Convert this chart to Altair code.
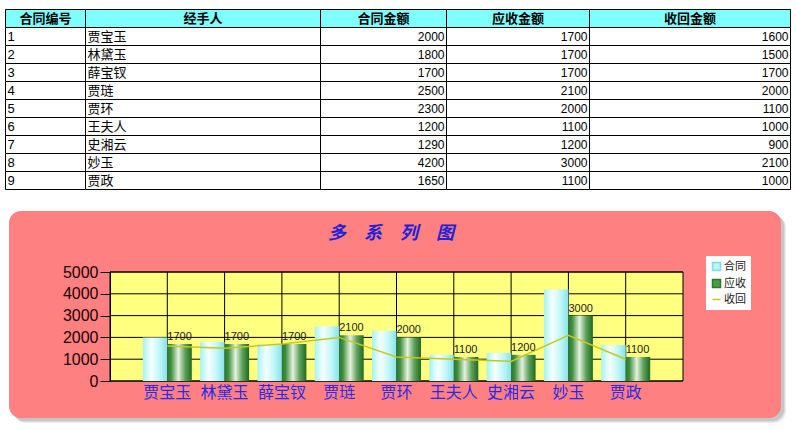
import altair as alt
import pandas as pd

# ---------------- data ----------------
IDS = [1, 2, 3, 4, 5, 6, 7, 8, 9]
NAMES = ["贾宝玉", "林黛玉", "薛宝钗", "贾琏", "贾环", "王夫人", "史湘云", "妙玉", "贾政"]
CONTRACT = [2000, 1800, 1700, 2500, 2300, 1200, 1290, 4200, 1650]
RECEIVABLE = [1700, 1700, 1700, 2100, 2000, 1100, 1200, 3000, 1100]
RECOVERED = [1600, 1500, 1700, 2000, 1100, 1000, 900, 2100, 1000]
HEADERS = ["合同编号", "经手人", "合同金额", "应收金额", "收回金额"]
SERIES = ["合同", "应收", "收回"]
Y_TICKS = [0, 1000, 2000, 3000, 4000, 5000]
TITLE = "多　系　列　图"

# ---------------- layout / style ----------------
W, H = 573, 109
PAD = {"left": 110, "top": 272, "right": 113, "bottom": 49}
COL_EDGES = [0, 80, 315, 441, 584, 785]
TABLE_X_RANGE = [-104.5, 680.5]
TABLE_Y_RANGE = [-262.5, -82.5]
CJK = "Noto Sans CJK SC"
LAT = "Liberation Sans"

# ---------------- table frame ----------------
trows = []
for c, h in enumerate(HEADERS):
    trows.append({"r": 0, "c": c, "text": h, "kind": "header"})
for i in range(len(NAMES)):
    vals = [IDS[i], NAMES[i], CONTRACT[i], RECEIVABLE[i], RECOVERED[i]]
    kinds = ["left", "left", "num", "num", "num"]
    for c in range(5):
        trows.append({"r": i + 1, "c": c, "text": str(vals[c]), "kind": kinds[c]})
tdf = pd.DataFrame(trows)
tdf["x0"] = tdf["c"].map(lambda c: COL_EDGES[c])
tdf["x1"] = tdf["c"].map(lambda c: COL_EDGES[c + 1])
tdf["r2"] = tdf["r"] + 1
tdf["ym"] = tdf["r"] + 0.5
tdf["xa"] = tdf.apply(
    lambda d: (d.x0 + d.x1) / 2 if d.kind == "header" else (d.x0 + 2 if d.kind == "left" else d.x1 - 2),
    axis=1,
)

txs = alt.Scale(domain=[0, 785], range=TABLE_X_RANGE, nice=False, zero=False)
tys = alt.Scale(domain=[0, 10], range=TABLE_Y_RANGE, nice=False, zero=False)

tbase = alt.Chart(tdf)
t_rect = tbase.mark_rect(stroke="black", strokeWidth=1).encode(
    x=alt.X("x0:Q", scale=txs, axis=None),
    x2="x1:Q",
    y=alt.Y("r:Q", scale=tys, axis=None),
    y2="r2:Q",
    fill=alt.condition("datum.r == 0", alt.value("#80FFFF"), alt.value("white")),
)
t_head = tbase.transform_filter("datum.kind == 'header'").mark_text(
    font=CJK, fontSize=13, fontWeight="bold", color="black", align="center", baseline="middle"
).encode(x=alt.X("xa:Q", scale=txs, axis=None), y=alt.Y("ym:Q", scale=tys, axis=None), text="text:N")
t_left = tbase.transform_filter("datum.kind == 'left'").mark_text(
    font=LAT + ", " + CJK, fontSize=13, color="black", align="left", baseline="middle"
).encode(x=alt.X("xa:Q", scale=txs, axis=None), y=alt.Y("ym:Q", scale=tys, axis=None), text="text:N")
t_num = tbase.transform_filter("datum.kind == 'num'").mark_text(
    font=LAT, fontSize=12, color="black", align="right", baseline="middle"
).encode(x=alt.X("xa:Q", scale=txs, axis=None), y=alt.Y("ym:Q", scale=tys, axis=None), text="text:N")
table = alt.layer(t_rect, t_head, t_left, t_num)

# ---------------- chart ----------------
long_rows = []
for i, n in enumerate(NAMES):
    long_rows.append({"name": n, "series": "合同", "value": CONTRACT[i]})
    long_rows.append({"name": n, "series": "应收", "value": RECEIVABLE[i]})
cdf = pd.DataFrame(long_rows)
ldf = pd.DataFrame({"name": NAMES, "value": RECOVERED})
ndf = pd.DataFrame({"name": NAMES})
tkdf = pd.DataFrame({"v": Y_TICKS})
one = alt.Data(values=[{"k": 1}])

xsc = alt.Scale(domain=NAMES, paddingInner=0, paddingOuter=0.5)
ysc = alt.Scale(domain=[0, 5000], nice=False)
xaxis = alt.Axis(orient="bottom", title=None, labelAngle=0, ticks=False, domain=False, grid=False,
                 labelPadding=3, labelFont=CJK, labelFontSize=16, labelColor="#2A2AE6", zindex=1)
yaxis = alt.Axis(orient="left", title=None, values=Y_TICKS, format="d", grid=False, tickSize=10,
                 tickColor="black", domainColor="black", labelFont=LAT, labelFontSize=16,
                 labelColor="#1A0000", labelPadding=2, zindex=1)
X = alt.X("name:N", scale=xsc, axis=xaxis)
Y = alt.Y("value:Q", scale=ysc, axis=yaxis)
xoff = alt.XOffset("series:N", scale=alt.Scale(domain=["合同", "应收"], paddingInner=0, paddingOuter=0.17))

cyan_grad = alt.Gradient(gradient="linear", x1=0, y1=0, x2=1, y2=0, stops=[
    alt.GradientStop(offset=0, color="#A6F2F4"),
    alt.GradientStop(offset=0.35, color="#F6FFFF"),
    alt.GradientStop(offset=0.7, color="#BDF6F8"),
    alt.GradientStop(offset=1, color="#86E2EA"),
])
green_grad = alt.Gradient(gradient="linear", x1=0, y1=0, x2=1, y2=0, stops=[
    alt.GradientStop(offset=0, color="#2A7A2A"),
    alt.GradientStop(offset=0.15, color="#3E8E3E"),
    alt.GradientStop(offset=0.45, color="#E6F2DE"),
    alt.GradientStop(offset=0.72, color="#5FA25F"),
    alt.GradientStop(offset=1, color="#1F6A1F"),
])

plot_bg = alt.Chart(one).mark_rect(fill="#FFFF80", stroke="black", strokeWidth=1).encode(
    x=alt.value(0), x2=alt.value("width"), y=alt.value(0), y2=alt.value("height"))
hrules = alt.Chart(tkdf).mark_rule(color="black", strokeWidth=1).encode(
    y=alt.Y("v:Q", scale=ysc, axis=yaxis))
vrules = alt.Chart(ndf).mark_rule(color="black", strokeWidth=1).encode(x=X)
bars_c = alt.Chart(cdf).transform_filter("datum.series == '合同'").mark_bar(fill=cyan_grad).encode(
    x=X, xOffset=xoff, y=Y)
bars_g = alt.Chart(cdf).transform_filter("datum.series == '应收'").mark_bar(fill=green_grad).encode(
    x=X, xOffset=xoff, y=Y)
line = alt.Chart(ldf).mark_line(color="#C8C81A", strokeWidth=1.5).encode(x=X, y=Y)
labels = alt.Chart(cdf).transform_filter("datum.series == '应收'").mark_text(
    align="left", baseline="alphabetic", dy=-4, font=LAT, fontSize=11, color="#222222"
).encode(x=X, y=Y, text="value:Q")
title = alt.Chart(one).mark_text(
    text=TITLE, font=CJK, fontSize=18, fontWeight="bold", fontStyle="italic", color="#2222D8",
    align="center", baseline="middle"
).encode(x=alt.value(281), y=alt.value(-38))

plot = alt.layer(plot_bg, hrules, vrules, bars_c, bars_g, line, labels, title)

# ---------------- legend (drawn behind the panel; legend only) ----------------
sdf = pd.DataFrame({"series": SERIES})
leg = alt.Legend(title=None, orient="none", legendX=596, legendY=-16, fillColor="white", padding=5,
                 labelFont=CJK, labelFontSize=11, labelColor="#202020", symbolSize=64,
                 rowPadding=2, labelOffset=2, symbolStrokeWidth=1.5, zindex=1)
legend_layer = alt.Chart(sdf).mark_point(filled=True, opacity=1, size=10).encode(
    x=alt.value(280), y=alt.value(50),
    fill=alt.Fill("series:N", scale=alt.Scale(domain=SERIES, range=["#B8F4F8", "#4A9A4A", "#C8C81A"]), legend=leg),
    stroke=alt.Stroke("series:N", scale=alt.Scale(domain=SERIES, range=["#86D8E2", "#2A7A2A", "#C8C81A"]), legend=leg),
    shape=alt.Shape("series:N", scale=alt.Scale(domain=SERIES, range=["square", "square", "stroke"]), legend=leg),
)

# ---------------- panel ----------------
def panel_rect(dx, dy, color, op):
    return alt.Chart(one).mark_rect(fill=color, cornerRadius=12, opacity=op).encode(
        x=alt.value(-101 + dx), x2=alt.value(671 + dx), y=alt.value(-61 + dy), y2=alt.value(146 + dy))

shadows = [panel_rect(5, 5, "#999999", 0.18), panel_rect(4, 4, "#999999", 0.22), panel_rect(3, 3, "#888888", 0.25)]
panel = panel_rect(0, 0, "#FF8080", 1)

chart = alt.layer(legend_layer, *shadows, panel, table, plot).resolve_scale(
    x="independent", y="independent"
).properties(
    width=W, height=H, padding=PAD, autosize=alt.AutoSizeParams(type="none"), background="white"
).configure_view(stroke=None)

chart.save("out.html", embed_options={"renderer": "svg", "actions": False})
